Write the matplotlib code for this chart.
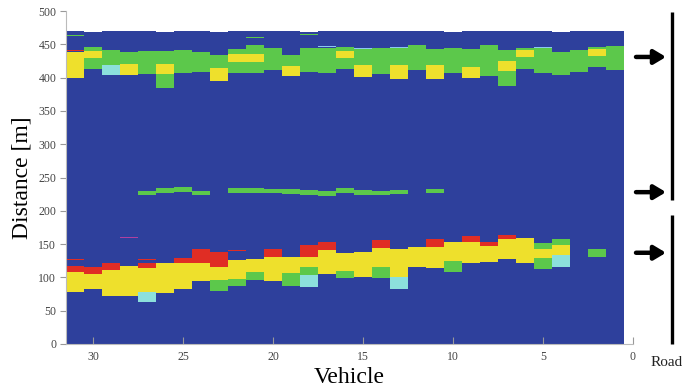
import matplotlib
matplotlib.use("Agg")
import matplotlib.pyplot as plt
import matplotlib.transforms as mtransforms

plt.rcParams['font.family'] = ['Liberation Serif', 'DejaVu Serif']

# ---------------- data ----------------
vehicles = list(range(1, 32))
blue_top = [470, 470, 470, 469, 470, 470, 470, 470, 470, 469, 470, 470, 470, 470, 470, 470,
            470, 469, 470, 470, 470, 470, 469, 470, 470, 469, 470, 470, 470, 469, 470]

yellow_v = [31, 30, 28, 26, 23, 22, 21, 19, 16, 15, 13, 11, 9, 7, 6, 2,
            31, 30, 29, 28, 27, 26, 25, 24, 23, 22, 21, 20, 19, 18, 17, 16, 15, 14,
            13, 12, 11, 10, 9, 8, 7, 6, 5, 4]
yellow_lo = [400, 429.5, 403.5, 406, 394.5, 423.5, 423.5, 402, 429.5, 401, 398.5, 398.5, 400, 410, 431, 432.5,
             78.5, 82, 72.5, 72.5, 78.5, 76, 82, 95, 96, 97.5, 108.5, 95, 107, 116, 105, 110, 101, 116,
             101, 116, 113.5, 124.5, 121, 123.5, 127, 121, 128.5, 133.5]
yellow_hi = [438.5, 440, 421, 421, 414.5, 436, 436, 418, 440, 418.5, 418.5, 418.5, 416, 424.5, 441, 442.5,
             108.5, 105, 111, 117, 114.5, 121, 121, 122, 115, 126, 127, 131, 131, 131, 141, 136, 138.5, 143.5,
             142, 146, 146, 153.5, 153.5, 147, 157, 158.5, 142, 148.5]

green_v = [30, 30, 29, 28, 27, 26, 26, 25, 24, 23, 22, 22, 21, 21, 20, 19, 18, 17, 16, 16,
           15, 14, 13, 12, 11, 10, 9, 8, 7, 7, 6, 6, 5, 4, 3, 2, 2, 1,
           27, 26, 25, 24, 22, 21, 20, 19, 18, 17, 16, 15, 14, 13, 11,
           23, 22, 21, 19, 18, 16, 14, 10, 5, 5, 4, 2]
green_lo = [440, 412.5, 418.5, 421, 405, 421, 384.5, 407, 408.5, 414.5, 436, 407, 436, 407, 411, 418, 408.5, 407, 440, 412.5,
            418.5, 405, 418.5, 411, 418.5, 407, 416, 402, 424.5, 387, 441, 413.5, 407, 403.5, 408.5, 442.5, 416, 412,
            223, 227, 228, 223, 227, 227, 226, 225, 224, 222, 227, 223, 223, 225, 226,
            80, 87, 96, 87.5, 103.5, 98.5, 98.5, 108.5, 142, 112, 148.5, 130]
green_hi = [446, 429.5, 442, 438.5, 439.5, 439.5, 406, 441, 438.5, 434.5, 443.5, 423.5, 448.5, 423.5, 444.5, 434.5, 444.5, 444.5, 446, 429.5,
            443, 444.5, 445, 448.5, 443.5, 445, 443.5, 448.5, 441, 410, 444.5, 431, 445, 438.5, 442, 446, 432.5, 447,
            230, 234, 235, 230, 234, 234, 233, 232, 231, 229, 234, 231, 229, 231, 232,
            96, 97.5, 108.5, 107, 116, 110, 116, 124.5, 151, 128.5, 157, 142]

red_v = [31, 30, 29, 27, 25, 24, 23, 20, 18, 17, 14, 11, 9, 8, 7]
red_lo = [108.5, 105, 111, 114.5, 121, 122, 115, 131, 131, 141, 143.5, 146, 153.5, 147, 157]
red_hi = [117, 116, 122, 122, 128.5, 142, 138.5, 143, 148.5, 153.5, 156, 157, 162, 153.5, 163.5]

cyan_v = [29, 27, 18, 13, 4]
cyan_lo = [403.5, 62.5, 86, 82, 116]
cyan_hi = [418.5, 78.5, 103.5, 101, 133.5]

# thin single-bin traces
trace_red_v = [31, 27, 22, 31]
trace_red_d = [127, 127, 140, 441]
trace_green_v = [31, 21, 18]
trace_green_d = [463, 460, 465]
trace_sky_v = [17, 15, 13, 5]
trace_sky_d = [447, 443.5, 444.5, 445.5]
trace_magenta_v = [28]
trace_magenta_d = [160]

arrow_d = [431, 228, 137]
road_segments = [(216, 499), (0, 193)]

xticks = [30, 25, 20, 15, 10, 5, 0]
yticks = [0, 50, 100, 150, 200, 250, 300, 350, 400, 450, 500]

# ---------------- style ----------------
C_BLUE = '#2E409C'
C_GREEN = '#5CC84B'
C_YELLOW = '#EEE02C'
C_RED = '#E02D24'
C_CYAN = '#8CE0DC'
C_SKY = '#8CC8F0'
C_MAG = '#B040A0'

fig = plt.figure(figsize=(6.85, 3.90), dpi=100)
ax = fig.add_axes([66 / 685, 1 - 344 / 390, (633 - 66) / 685, (344 - 11) / 390])


def draw(v, lo, hi, color):
    ax.bar(v, [h - l for l, h in zip(lo, hi)], bottom=lo, width=1.0,
           color=color, linewidth=0, antialiased=False, zorder=2)


ax.bar(vehicles, blue_top, bottom=0, width=1.0, color=C_BLUE, linewidth=0,
       antialiased=False, zorder=1)
draw(yellow_v, yellow_lo, yellow_hi, C_YELLOW)
draw(green_v, green_lo, green_hi, C_GREEN)
draw(red_v, red_lo, red_hi, C_RED)
draw(cyan_v, cyan_lo, cyan_hi, C_CYAN)

for tv, td, col in [(trace_red_v, trace_red_d, C_RED), (trace_green_v, trace_green_d, C_GREEN),
                    (trace_sky_v, trace_sky_d, C_SKY), (trace_magenta_v, trace_magenta_d, C_MAG)]:
    draw(tv, [d - 0.8 for d in td], [d + 0.8 for d in td], col)

ax.set_xlim(31.5, 0)
ax.set_ylim(0, 500)
ax.set_xticks(xticks)
ax.set_yticks(yticks)
for s in ['top', 'right']:
    ax.spines[s].set_visible(False)
for s in ['left', 'bottom']:
    ax.spines[s].set_color('#BBBBBB')
    ax.spines[s].set_linewidth(0.8)
ax.tick_params(axis='x', direction='in', length=5, color='#999999', labelsize=8.5,
               labelcolor='#444444', pad=5)
ax.tick_params(axis='y', direction='out', length=4, color='#999999', labelsize=8.5,
               labelcolor='#444444', pad=3)
ax.set_xlabel('Vehicle', fontsize=17, labelpad=3)
ax.set_ylabel('Distance [m]', fontsize=17, labelpad=4)

# road schematic on the right
tr = mtransforms.blended_transform_factory(fig.transFigure, ax.transData)
for lo, hi in road_segments:
    ax.plot([672 / 685, 672 / 685], [lo, hi], color='black', lw=2.4, transform=tr,
            clip_on=False, solid_capstyle='butt')
for d in arrow_d:
    ax.annotate('', xy=(666 / 685, d), xytext=(636 / 685, d), xycoords=tr, textcoords=tr,
                arrowprops=dict(arrowstyle='-|>,head_length=0.5,head_width=0.3', lw=3.2,
                                color='black', shrinkA=0, shrinkB=0, mutation_scale=14),
                annotation_clip=False)
fig.text(651 / 685, 1 - 362 / 390, 'Road', fontsize=11, ha='left', va='center', color='#222222')

fig.savefig('out.png', dpi=100)
